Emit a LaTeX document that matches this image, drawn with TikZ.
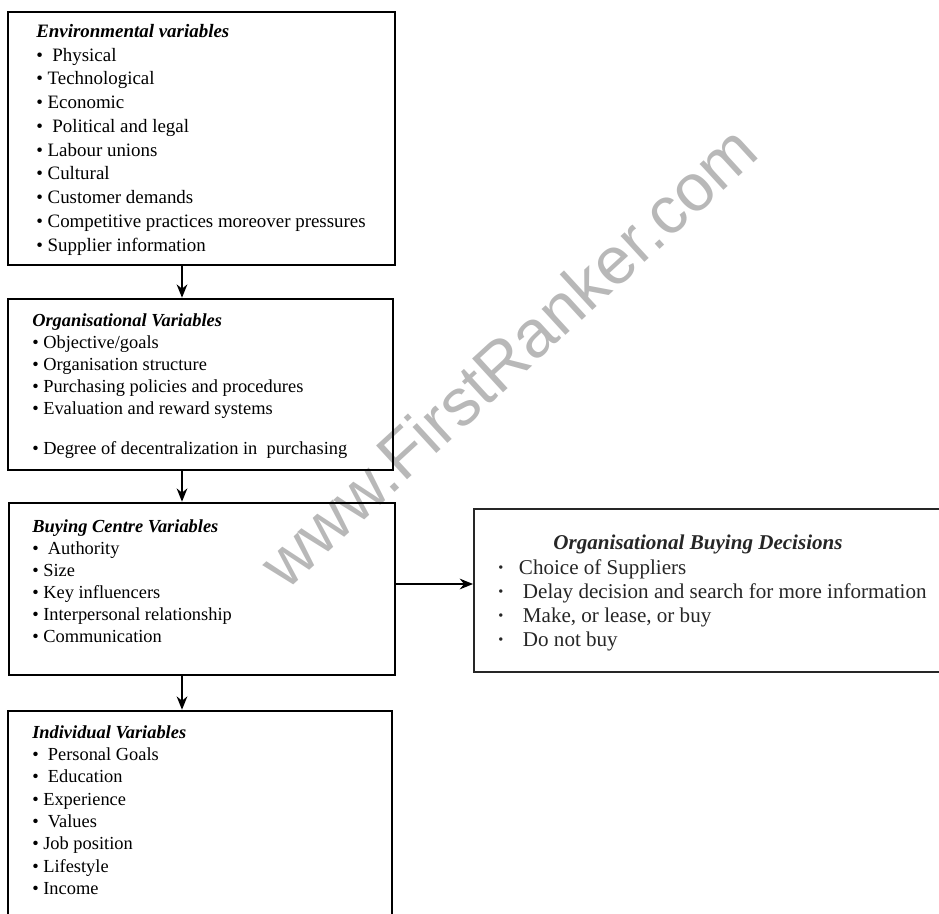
\documentclass[tikz,border=0pt]{standalone}
\usepackage{fontspec}
\setmainfont{Liberation Serif}
\newfontfamily\markfont{Liberation Sans}
\usetikzlibrary{positioning, fit, arrows.meta}
\tikzset{
	varbox/.style={
			draw=black,
			line width=1.9pt,
			inner sep=0pt
		},
	decbox/.style={
			draw=black!85,
			line width=1.4pt,
			inner sep=0pt
		},
	vartext/.style={
			anchor=north west,
			inner sep=0pt,
			align=left,
			font=\fontsize{13.8}{16.5}\selectfont
		},
	dectext/.style={
			inner sep=0pt,
			align=left,
			text=black!85,
			font=\fontsize{15.8}{18}\selectfont
		},
	watermark/.style={
			inner sep=0pt,
			rotate=42.5,
			text=black!28,
			font=\markfont\fontsize{50}{50}\selectfont
		},
	flow/.style={
			line width=1.5pt,
			-{Stealth[length=10pt,width=8pt]}
		}
}
\newcommand{\vitem}{\textbullet\ }
\newcommand{\ditem}{{\bfseries ·}\hspace{11pt}}

\begin{document}
\begin{tikzpicture}[x=0.75pt, y=-0.75pt]
\useasboundingbox (0,0) rectangle (939,914);
\node[watermark] (mark) at (508,356) {www.FirstRanker.com};

% boxes
\node[varbox, fit={(8,12) (395,265)}] (env) {};
\node[varbox, fit={(8,299) (393,470)}] (org) {};
\node[varbox, fit={(9,503) (395,675)}] (buy) {};
\node[decbox, fit={(474,509) (950,672)}] (dec) {};
\node[varbox, fit={(8,711) (392,930)}] (ind) {};

% texts
\node[vartext, font=\fontsize{14.2}{17.8}\selectfont] (envtxt) at (36,24) {%
  \textbf{\textit{Environmental variables}}\\
  \vitem\ Physical\\
  \vitem Technological\\
  \vitem Economic\\
  \vitem\ Political and legal\\
  \vitem Labour unions\\
  \vitem Cultural\\
  \vitem Customer demands\\
  \vitem Competitive practices moreover pressures\\
  \vitem Supplier information};
\node[vartext] (orgtxt) at (32,313) {%
  \textbf{\textit{Organisational Variables}}\\
  \vitem Objective/goals\\
  \vitem Organisation structure\\
  \vitem Purchasing policies and procedures\\
  \vitem Evaluation and reward systems\\[13.5pt]
  \vitem Degree of decentralization in\ \ purchasing};
\node[vartext] (buytxt) at (32,519) {%
  \textbf{\textit{Buying Centre Variables}}\\
  \vitem\ Authority\\
  \vitem Size\\
  \vitem Key influencers\\
  \vitem Interpersonal relationship\\
  \vitem Communication};
\node[vartext, font=\fontsize{13.8}{16.75}\selectfont] (indtxt) at (32,725) {%
  \textbf{\textit{Individual Variables}}\\
  \vitem\ Personal Goals\\
  \vitem\ Education\\
  \vitem Experience\\
  \vitem\ Values\\
  \vitem Job position\\
  \vitem Lifestyle\\
  \vitem Income};
\node[dectext] (dectitle) at (698,544) {\textbf{\textit{Organisational Buying Decisions}}};
\node[dectext, anchor=north west] (dectxt) at (497,559) {%
  \ditem Choice of Suppliers\\
  \ditem\hspace{3pt}Delay decision and search for more information\\
  \ditem\hspace{3pt}Make, or lease, or buy\\
  \ditem\hspace{3pt}Do not buy};

% connectors
\coordinate (axis) at (182,0);
\coordinate (hline) at (0,584);
\draw[flow] (env.south -| axis) -- (org.north -| axis);
\draw[flow] (org.south -| axis) -- (buy.north -| axis);
\draw[flow] (buy.south -| axis) -- (ind.north -| axis);
\draw[flow] (buy.east |- hline) -- (dec.west |- hline);
\end{tikzpicture}
\end{document}
